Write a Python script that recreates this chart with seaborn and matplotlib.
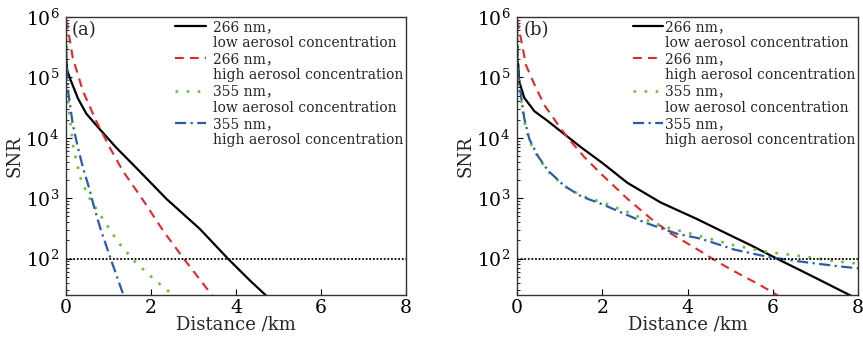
import matplotlib
matplotlib.use("Agg")
import matplotlib.pyplot as plt
from matplotlib.lines import Line2D
from matplotlib.ticker import LogLocator, NullFormatter
import seaborn as sns

# ---- data (distance in km, SNR) ----
# panel (a)
dist_a_266_low = [0, 0.03, 0.09, 0.28, 0.48, 0.79, 1.18, 1.65, 2.03, 2.36, 3.15, 3.81, 4.32, 4.72]
snr_a_266_low = [2.1e5, 1.3e5, 9.8e4, 4.5e4, 2.5e4, 1.4e4, 6.9e3, 3.2e3, 1.7e3, 980, 310, 100, 44, 24]

dist_a_266_high = [0, 0.03, 0.16, 0.40, 0.71, 1.03, 1.34, 1.61, 1.85, 2.30, 2.77, 3.45]
snr_a_266_high = [8.9e5, 7.4e5, 2.1e5, 5.9e4, 1.9e4, 6.9e3, 2.8e3, 1.5e3, 850, 280, 100, 24]

dist_a_355_low = [0, 0.02, 0.05, 0.10, 0.16, 0.24, 0.36, 0.57, 0.88, 1.23, 1.62, 2.05, 2.55]
snr_a_355_low = [7.9e5, 1.0e5, 3.8e4, 1.9e4, 7.8e3, 4.2e3, 1.95e3, 950, 440, 186, 89, 47, 24]

dist_a_355_high = [0, 0.01, 0.05, 0.16, 0.28, 0.40, 0.56, 0.64, 0.80, 1.05, 1.36]
snr_a_355_high = [7.9e5, 2.0e5, 5.9e4, 1.66e4, 6.9e3, 3.2e3, 1.35e3, 810, 330, 100, 24]

# panel (b)
dist_b_266_low = [0, 0.03, 0.05, 0.17, 0.41, 0.72, 1.11, 1.51, 2.01, 2.59, 3.37, 4.20,
                  5.02, 5.49, 6.12, 6.67, 7.03, 7.85]
snr_b_266_low = [2.1e5, 1.6e5, 8.7e4, 4.6e4, 2.75e4, 1.9e4, 1.15e4, 6.9e3, 3.8e3, 1.8e3, 850, 460,
                 240, 166, 98, 63, 47, 24]

dist_b_266_high = [0, 0.03, 0.21, 0.41, 0.64, 0.96, 1.19, 1.58, 1.98, 2.59, 3.14, 3.61,
                   4.31, 4.58, 5.02, 5.72, 6.14]
snr_b_266_high = [8.9e5, 7.4e5, 1.6e5, 7.6e4, 3.5e4, 1.66e4, 1.0e4, 4.8e3, 2.5e3, 980, 460, 260,
                  132, 100, 66, 36, 24]

dist_b_355_low = [0, 0.03, 0.10, 0.17, 0.29, 0.49, 0.72, 1.11, 1.51, 2.01, 2.59, 3.37,
                  4.16, 5.10, 5.88, 6.67, 7.45, 8.0]
snr_b_355_low = [7.9e5, 8.7e4, 4.1e4, 1.9e4, 8.9e3, 4.8e3, 2.8e3, 1.6e3, 1.1e3, 850, 590, 350,
                 250, 166, 129, 110, 91, 83]

dist_b_355_high = [0, 0.03, 0.10, 0.17, 0.29, 0.49, 0.72, 1.11, 1.51, 2.01, 2.98, 3.76,
                   4.31, 5.10, 5.88, 6.67, 7.45, 8.0]
snr_b_355_high = [7.9e5, 1.1e5, 4.6e4, 2.1e4, 9.5e3, 5.0e3, 2.9e3, 1.6e3, 1.07e3, 790, 400, 257,
                  214, 141, 107, 89, 76, 69]

threshold = 100
x_ticks = [0, 2, 4, 6, 8]

labels = [
    ("266 nm，", "low aerosol concentration"),
    ("266 nm，", "high aerosol concentration"),
    ("355 nm，", "low aerosol concentration"),
    ("355 nm，", "high aerosol concentration"),
]

# colour, linestyle, linewidth per series
styles = [
    ("black", "-", 1.6),
    ("#e8262a", (0, (4.2, 3.0)), 1.5),
    ("#6cbf3c", (0, (1, 3.2)), 1.9),
    ("#2a5cab", (0, (5, 2, 1, 2)), 1.6),
]

sns.set_theme(style="ticks")
plt.rcParams["font.family"] = ["DejaVu Serif", "Noto Sans CJK SC"]
plt.rcParams["mathtext.fontset"] = "dejavuserif"

fig = plt.figure(figsize=(8.63, 3.37), dpi=100)
ax_a = fig.add_axes([66 / 863, 42 / 337, 340 / 863, 278 / 337])
ax_b = fig.add_axes([517 / 863, 42 / 337, 341 / 863, 278 / 337])

panels = [
    (ax_a, "(a)", [(dist_a_266_low, snr_a_266_low), (dist_a_266_high, snr_a_266_high),
                   (dist_a_355_low, snr_a_355_low), (dist_a_355_high, snr_a_355_high)], 0.5),
    (ax_b, "(b)", [(dist_b_266_low, snr_b_266_low), (dist_b_266_high, snr_b_266_high),
                   (dist_b_355_low, snr_b_355_low), (dist_b_355_high, snr_b_355_high)], 0.1),
]

for ax, tag, series, textpad in panels:
    ax.set_yscale("log")
    for (dist, snr), (color, ls, lw) in zip(series, styles):
        sns.lineplot(x=dist, y=snr, ax=ax, color=color, linestyle=ls,
                     linewidth=lw, estimator=None, sort=False,
                     solid_joinstyle="round")
    ax.axhline(threshold, color="black", linestyle=(0, (1, 1)), linewidth=1.3)

    ax.set_xlim(0, 8)
    ax.set_ylim(25, 1e6)
    ax.set_xticks(x_ticks)
    ax.yaxis.set_major_locator(LogLocator(base=10, numticks=10))
    ax.yaxis.set_minor_locator(LogLocator(base=10, subs=range(2, 10), numticks=100))
    ax.yaxis.set_minor_formatter(NullFormatter())
    ax.tick_params(which="both", direction="in", labelsize=13.5, colors="black")
    ax.tick_params(which="major", length=4, width=0.8)
    ax.tick_params(which="minor", length=2.5, width=0.6)
    ax.tick_params(axis="y", pad=5)
    ax.tick_params(axis="x", pad=3)
    for sp in ax.spines.values():
        sp.set_color("#333333")
        sp.set_linewidth(1.0)

    ax.set_xlabel("Distance /km", fontsize=13, labelpad=-1)
    ax.set_ylabel("SNR", fontsize=13, labelpad=1)
    ax.text(0.018, 0.985, tag, transform=ax.transAxes, fontsize=13, va="top", ha="left")

    # legend: one row per text line, handle only on the first line
    lines = ax.get_lines()[:4]
    handles, texts = [], []
    for line, (l1, l2) in zip(lines, labels):
        handles += [line, Line2D([], [], color="none")]
        texts += [l1, l2]
    ax.legend(handles, texts, loc="upper right", frameon=False, fontsize=10,
              handlelength=2.2, handletextpad=textpad, labelspacing=0.16,
              borderaxespad=0.1, borderpad=0.1)

fig.savefig("out.png", dpi=100)
